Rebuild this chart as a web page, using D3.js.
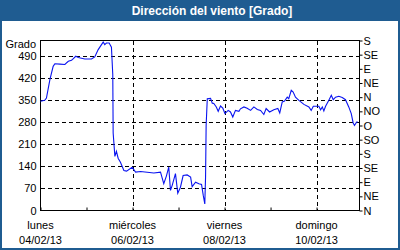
<!DOCTYPE html>
<html>
<head>
<meta charset="utf-8">
<script src="https://cdn.jsdelivr.net/npm/d3@7"></script>
<style>
  body { margin: 0; background: #fff; }
  svg { display: block; }
</style>
</head>
<body>
<script>
'use strict';

// hours since lunes 04/02/13 00:00 and wind direction in degrees
const hours = [0, 2.2, 3.1, 4.9, 6.6, 7.5, 10.1, 12.7, 14.5, 16.2, 18.4, 19.7, 23.1, 26.6, 28.3,
  30.1, 32.7, 33.5, 34.4, 35.8, 37.0, 37.7, 37.9, 38.8, 39.6, 40.5, 41.7, 43.5, 44.9, 47.8,
  49.6, 52.2, 59.1, 62.6, 64.3, 65.7, 66.9, 67.8, 68.7, 70.4, 71.6, 73.0, 74.4, 76.5, 78.3,
  79.1, 80.9, 82.6, 84.0, 84.9, 85.7, 86.1, 86.4, 87.0, 88.7, 89.6, 90.4, 91.7, 92.7, 93.9,
  95.1, 96.2, 97.9, 99.1, 100.3, 101.7, 103.5, 104.3, 106.1, 107.8, 109.6, 111.3, 113.1, 114.8,
  116.5, 117.7, 119.5, 121.7, 123.8, 124.8, 126.1, 127.3, 128.7, 129.5, 130.8, 131.8, 133.0,
  134.8, 137.4, 140.0, 141.2, 142.3, 145.2, 146.1, 147.0, 147.8, 148.7, 150.4, 151.7, 152.7,
  153.9, 155.6, 157.4, 159.1, 160.8, 162.1, 163.1, 163.8, 164.9, 165.5];
const grados = [347, 350, 357, 416, 458, 466, 465, 464, 474, 477, 490, 486, 481, 481, 488,
  511, 535, 527, 532, 532, 519, 432, 246, 172, 188, 166, 153, 127, 125, 137,
  122, 124, 119, 122, 85, 110, 138, 64, 80, 117, 55, 74, 111, 113, 106,
  76, 90, 85, 83, 48, 21, 106, 270, 355, 356, 341, 340, 329, 315, 332,
  325, 308, 318, 313, 297, 318, 315, 323, 329, 325, 318, 329, 321, 318,
  305, 324, 313, 320, 324, 310, 345, 348, 360, 355, 382, 376, 360,
  350, 337, 329, 318, 331, 331, 320, 329, 316, 331, 350, 366, 352,
  360, 363, 359, 352, 329, 308, 278, 270, 281, 281];

const gradoTicks = [0, 70, 140, 210, 280, 350, 420, 490];
const rumbos = ["N", "NE", "E", "SE", "S", "SO", "O", "NO", "N", "NE", "E", "SE", "S"];
const diaNombres = ["lunes", "miércoles", "viernes", "domingo"];
const diaFechas = ["04/02/13", "06/02/13", "08/02/13", "10/02/13"];

const width = 400, height = 250;
const pLeft = 40.5, pRight = 359.5, pTop = 40.5, pBottom = 210.5;
const font = "'Liberation Sans', Arial, sans-serif";

const start = new Date(2013, 1, 4);
const toDate = h => new Date(start.getTime() + h * 3600e3);

let svg = d3.select("body").append("svg")
    .attr("width", width)
    .attr("height", height);

// frame + title bar
svg.append("rect")
    .attr("x", 1).attr("y", 1)
    .attr("width", width - 2).attr("height", height - 2)
    .attr("fill", "#fff")
    .attr("stroke", "#1f5c91")
    .attr("stroke-width", 2);
svg.append("rect")
    .attr("x", 0).attr("y", 0)
    .attr("width", width).attr("height", 21)
    .attr("fill", "#1f5c91");
svg.append("text")
    .attr("x", 212).attr("y", 15)
    .attr("text-anchor", "middle")
    .style("font-family", font)
    .style("font-weight", "bold")
    .style("font-size", "12px")
    .style("fill", "#fff")
    .text("Dirección del viento [Grado]");

let x = d3.scaleTime()
    .domain([start, toDate(166.4)])
    .range([pLeft, pRight]);
let y = d3.scaleLinear()
    .domain([0, 540])
    .range([pBottom, pTop]);

// grid
let grid = svg.append("g")
    .attr("stroke", "#000")
    .attr("stroke-dasharray", "4,3")
    .attr("shape-rendering", "crispEdges");
grid.selectAll("line.h")
    .data(gradoTicks.slice(1))
    .enter().append("line")
    .attr("x1", pLeft).attr("x2", pRight)
    .attr("y1", d => Math.round(y(d)) + 0.5)
    .attr("y2", d => Math.round(y(d)) + 0.5);

let labelDays = diaFechas.map((d, i) => d3.timeDay.offset(start, i * 2));
grid.selectAll("line.v")
    .data(labelDays.slice(1))
    .enter().append("line")
    .attr("x1", d => Math.round(x(d)) + 0.5)
    .attr("x2", d => Math.round(x(d)) + 0.5)
    .attr("y1", pTop).attr("y2", pBottom);

// left axis
let yAxis = svg.append("g")
    .attr("transform", "translate(" + pLeft + ",0)")
    .call(d3.axisLeft(y).tickValues(gradoTicks).tickSize(0).tickPadding(4));
yAxis.select(".domain").remove();
yAxis.selectAll("text")
    .style("font-family", font)
    .style("font-size", "11px")
    .style("fill", "#000");
svg.append("text")
    .attr("x", 36).attr("y", 48)
    .attr("text-anchor", "end")
    .style("font-family", font)
    .style("font-size", "11px")
    .text("Grado");

// right axis (compass)
let rAxis = svg.append("g")
    .attr("transform", "translate(" + pRight + ",0)")
    .call(d3.axisRight(y)
        .tickValues(d3.range(rumbos.length).map(i => i * 45))
        .tickFormat((d, i) => rumbos[i])
        .tickSize(3).tickPadding(1));
rAxis.select(".domain").remove();
rAxis.selectAll("text")
    .style("font-family", font)
    .style("font-size", "11px")
    .style("fill", "#000");

// bottom day ticks (inside)
let xAxis = svg.append("g")
    .attr("transform", "translate(0," + pBottom + ")")
    .call(d3.axisBottom(x).ticks(d3.timeDay.every(1)).tickSize(-3).tickFormat(""));
xAxis.select(".domain").remove();

let xLab = svg.append("g")
    .style("font-family", font)
    .style("font-size", "11px")
    .attr("text-anchor", "middle");
xLab.selectAll("text.dia")
    .data(labelDays)
    .enter().append("text")
    .attr("x", d => x(d))
    .attr("y", 229)
    .text((d, i) => diaNombres[i]);
xLab.selectAll("text.fecha")
    .data(labelDays)
    .enter().append("text")
    .attr("x", d => x(d))
    .attr("y", 244)
    .text((d, i) => diaFechas[i]);

// plot box
svg.append("rect")
    .attr("x", pLeft).attr("y", pTop)
    .attr("width", pRight - pLeft).attr("height", pBottom - pTop)
    .attr("fill", "none")
    .attr("stroke", "#000");

// wind line
let line = d3.line()
    .x((d, i) => x(toDate(hours[i])))
    .y(d => y(d));
svg.append("path")
    .datum(grados)
    .attr("d", line)
    .attr("fill", "none")
    .attr("stroke", "#0a14f0")
    .attr("stroke-width", 1.1);
</script>
</body>
</html>
